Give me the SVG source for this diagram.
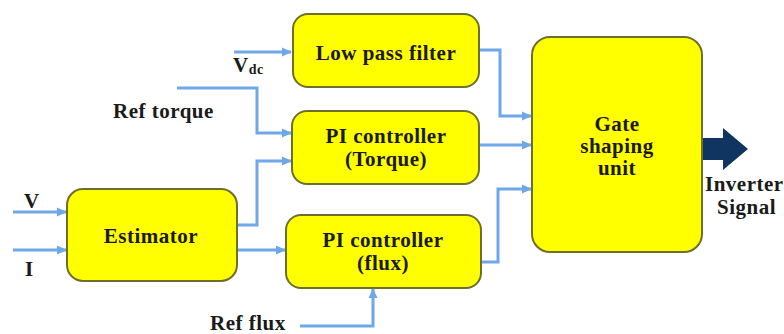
<svg xmlns="http://www.w3.org/2000/svg" width="784" height="334" viewBox="0 0 784 334">
<style>
.box{fill:#ffff00;stroke:#6e6e2e;stroke-width:2}
.t{font-family:"Liberation Serif","Times New Roman",serif;font-weight:bold;font-size:21px;letter-spacing:0.5px;fill:#1a1a1a;text-anchor:middle}
.l{font-family:"Liberation Serif","Times New Roman",serif;font-weight:bold;font-size:21px;letter-spacing:0.5px;fill:#1a1a1a}
.c{fill:none;stroke:#6fa8e8;stroke-width:3}
</style>
<defs>
<marker id="ah" markerUnits="userSpaceOnUse" markerWidth="10" markerHeight="10" viewBox="0 0 10 10" refX="9" refY="5" orient="auto">
<path d="M0,0.5 L10,5 L0,9.5 Z" fill="#6fa8e8"/>
</marker>
</defs>
<rect width="784" height="334" fill="#ffffff"/>
<g id="connectors">
<path class="c" d="M234,52 H291" marker-end="url(#ah)"/>
<path class="c" d="M177,88 H257 V133 H291" marker-end="url(#ah)"/>
<path class="c" d="M237,225 H257 V161 H291" marker-end="url(#ah)"/>
<path class="c" d="M237,250 H285" marker-end="url(#ah)"/>
<path class="c" d="M13,212 H66" marker-end="url(#ah)"/>
<path class="c" d="M13,250 H66" marker-end="url(#ah)"/>
<path class="c" d="M300,326 H373 V289" marker-end="url(#ah)"/>
<path class="c" d="M479,50 H500 V116 H531" marker-end="url(#ah)"/>
<path class="c" d="M479,145 H531" marker-end="url(#ah)"/>
<path class="c" d="M481,262 H498 V189 H531" marker-end="url(#ah)"/>
<path d="M702,138 H723 V128 L748,149 L723,170 V160 H702 Z" fill="#0f3560"/>
</g>
<g id="lpf">
<rect class="box" x="293" y="14" width="186" height="73" rx="15"/>
<text class="t" x="386" y="60">Low pass filter</text>
</g>
<g id="pi-torque">
<rect class="box" x="292" y="111" width="187" height="73" rx="15"/>
<text class="t" x="386" y="143">PI controller</text>
<text class="t" x="386" y="166">(Torque)</text>
</g>
<g id="pi-flux">
<rect class="box" x="286" y="215" width="195" height="73" rx="15"/>
<text class="t" x="383" y="247">PI controller</text>
<text class="t" x="383" y="270">(flux)</text>
</g>
<g id="estimator">
<rect class="box" x="67" y="189" width="170" height="92" rx="16"/>
<text class="t" x="151" y="243">Estimator</text>
</g>
<g id="gate">
<rect class="box" x="532" y="37" width="170" height="215" rx="18"/>
<text class="t" x="617" y="131">Gate</text>
<text class="t" x="617" y="153">shaping</text>
<text class="t" x="617" y="175">unit</text>
</g>
<g id="labels">
<text class="l" x="233" y="72">V<tspan font-size="14" dy="2">dc</tspan></text>
<text class="l" x="113" y="118">Ref torque</text>
<text class="l" x="24" y="208">V</text>
<text class="l" x="25" y="276">I</text>
<text class="l" x="210" y="330">Ref flux</text>
<text class="l" x="705" y="191" font-size="19">Inverter</text>
<text class="l" x="717" y="214" font-size="19">Signal</text>
</g>
</svg>
